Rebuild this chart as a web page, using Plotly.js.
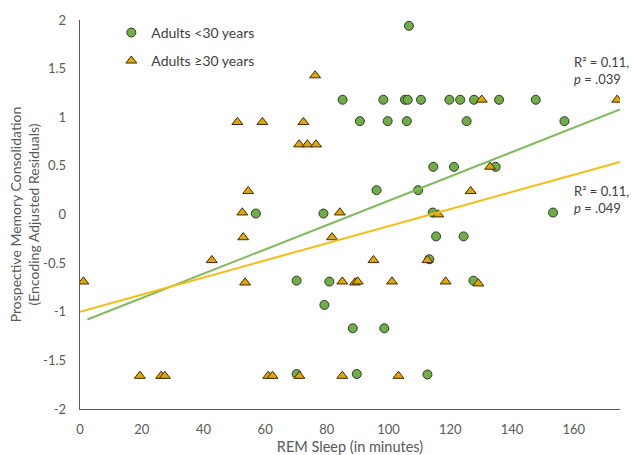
<!DOCTYPE html>
<html>
<head>
<meta charset="utf-8">
<script src="https://cdn.plot.ly/plotly-3.0.1.min.js"></script>
<style>html,body{margin:0;padding:0;background:#fff;}#chart{width:632px;height:455px;}</style>
</head>
<body>
<div id="chart"></div>
<script>
// Adults <30 years (green circles)
var youngX = [106.6, 85.1, 98.3, 105.3, 106.2, 110.5, 119.7, 123.2, 127.7, 135.8, 147.7,
              90.7, 99.7, 105.9, 125.3, 157.0, 114.5, 121.2, 134.7, 96.1, 109.6,
              57.0, 78.9, 114.3, 153.3, 115.4, 124.3, 113.2, 70.2, 80.8, 127.5,
              79.2, 88.4, 98.6, 70.2, 89.7, 112.6];
var youngY = [1.94, 1.18, 1.18, 1.18, 1.18, 1.18, 1.18, 1.18, 1.18, 1.18, 1.18,
              0.96, 0.96, 0.96, 0.96, 0.96, 0.49, 0.49, 0.49, 0.25, 0.25,
              0.01, 0.01, 0.02, 0.02, -0.225, -0.225, -0.46, -0.68, -0.69, -0.68,
              -0.93, -1.17, -1.17, -1.64, -1.64, -1.645];
// Adults >=30 years (gold triangles)
var olderX = [76.2, 130.2, 174.1, 51.0, 59.1, 72.4, 71.0, 73.7, 76.5, 132.9,
              54.5, 126.6, 52.6, 84.2, 116.1, 52.9, 81.7, 42.7, 95.1, 112.6,
              1.1, 53.5, 85.0, 89.1, 90.0, 101.1, 118.5, 129.1,
              19.4, 26.3, 27.5, 61.0, 62.4, 71.1, 85.0, 103.2];
var olderY = [1.43, 1.18, 1.18, 0.95, 0.95, 0.95, 0.72, 0.72, 0.72, 0.49,
              0.24, 0.24, 0.02, 0.02, 0.0, -0.235, -0.235, -0.47, -0.47, -0.47,
              -0.69, -0.70, -0.69, -0.70, -0.69, -0.69, -0.69, -0.71,
              -1.66, -1.66, -1.66, -1.66, -1.66, -1.66, -1.66, -1.66];
// Linear trendlines (end points)
var youngFitX = [2.4, 175];
var youngFitY = [-1.08, 1.08];
var olderFitX = [0, 175];
var olderFitY = [-1.0, 0.54];
// Axis ticks
var yTickVals = [2, 1.5, 1, 0.5, 0, -0.5, -1, -1.5, -2];
var yTickText = ["2", "1.5", "1", "0.5", "0", "-0.5", "-1", "-1.5", "-2"];
var xTickVals = [0, 20, 40, 60, 80, 100, 120, 140, 160];
var seriesNames = ["Adults <30 years", "Adults \u226530 years"];
var statYoung = "R\u00b2 = 0.11,<br><i>p</i> = .039";
var statOlder = "R\u00b2 = 0.11,<br><i>p</i> = .049";

var font = "Lato, 'Open Sans', sans-serif";
var traces = [
  {x: youngX, y: youngY, type: 'scatter', mode: 'markers', name: seriesNames[0], legendgroup: 'a',
   marker: {symbol: 'circle', size: 9, color: '#70AD47', line: {color: '#2f3a27', width: 1}}},
  {x: olderX, y: olderY, type: 'scatter', mode: 'markers', name: seriesNames[1], legendgroup: 'b',
   marker: {symbol: 'triangle-up', size: 9.5, color: '#E3A500', line: {color: '#3a2e10', width: 1}}},
  {x: youngFitX, y: youngFitY, type: 'scatter', mode: 'lines', showlegend: false,
   line: {color: '#80BA5C', width: 2}},
  {x: olderFitX, y: olderFitY, type: 'scatter', mode: 'lines', showlegend: false,
   line: {color: '#F7BC14', width: 2}}
];
function stat(txt, yPaper) {
  return {xref: 'paper', yref: 'paper', x: 1.018, y: yPaper, xanchor: 'right', yanchor: 'middle',
          align: 'left', showarrow: false, borderpad: 0, text: txt,
          font: {family: font, size: 13, color: '#404040'}};
}
var layout = {
  width: 632, height: 455,
  margin: {l: 80, r: 12, t: 17, b: 46},
  paper_bgcolor: '#fff', plot_bgcolor: '#fff',
  font: {family: font, size: 13, color: '#595959'},
  showlegend: true,
  legend: {x: 0.058, y: 1.008, xanchor: 'left', yanchor: 'top', bgcolor: 'rgba(0,0,0,0)',
           font: {family: font, size: 14, color: '#404040'}, traceorder: 'grouped', tracegroupgap: 7},
  xaxis: {range: [0, 175], tickvals: xTickVals, showgrid: false, zeroline: false,
          showline: true, linecolor: '#595959', linewidth: 1.3, ticks: '', ticklabelstandoff: 8,
          tickfont: {size: 13, color: '#595959'},
          title: {text: 'REM Sleep (in minutes)', font: {size: 14.5, color: '#595959'}, standoff: 6}},
  yaxis: {range: [-2, 2], tickvals: yTickVals, ticktext: yTickText, showgrid: false, zeroline: false,
          showline: true, linecolor: '#595959', linewidth: 1.3, ticks: '', ticklabelstandoff: 10,
          tickfont: {size: 13, color: '#595959'}, automargin: true,
          title: {text: 'Prospective Memory Consolidation<br>(Encoding Adjusted Residuals)',
                  font: {size: 14, color: '#595959'}, standoff: 0}},
  annotations: [stat(statYoung, 0.871), stat(statOlder, 0.5395)]
};
Plotly.newPlot('chart', traces, layout, {displayModeBar: false, staticPlot: true});
</script>
</body>
</html>
